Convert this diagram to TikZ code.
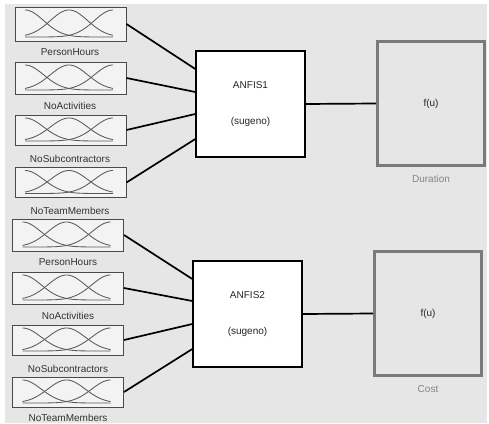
\documentclass[tikz,border=0pt]{standalone}
\usepackage{fontspec}
\setmainfont{Liberation Sans}
\definecolor{bgc}{HTML}{E6E6E6}
\definecolor{boxfill}{HTML}{F3F3F3}
\definecolor{boxline}{HTML}{4A4A4A}
\definecolor{mfc}{HTML}{5A5A5A}
\definecolor{outline}{HTML}{7A7A7A}
\definecolor{labc}{HTML}{333333}
\definecolor{capc}{HTML}{858585}
\newcommand{\mfcurves}[3]{% x0, y0 (top-left), h
  \foreach \c in {0,44,88}{
    \draw[mfline] plot[domain=0:88, samples=70, smooth]
      ({#1+10+\x}, {#2+#3-4-(#3-7)*exp(-((\x-\c)*(\x-\c))/699)});
  }%
}
\tikzset{
  inbox/.style={draw=boxline, fill=boxfill, line width=1pt, inner sep=0pt, minimum width=111pt},
  mfline/.style={draw=mfc, line width=0.85pt},
  inlabel/.style={text=labc, font=\fontsize{10}{12}\selectfont, inner sep=0pt},
  anfis/.style={draw=black, fill=white, line width=1.4pt, inner sep=0pt, minimum width=109pt, minimum height=106pt, align=center, font=\fontsize{10}{12}\selectfont, text=black!85},
  outbox/.style={draw=outline, fill=bgc, line width=3pt, inner sep=0pt, minimum width=107pt, minimum height=124pt, font=\fontsize{10}{12}\selectfont, text=black!85},
  caption/.style={text=capc, font=\fontsize{10}{12}\selectfont, inner sep=0pt},
  conn/.style={draw=black, line width=1.7pt},
}
\begin{document}
\begin{tikzpicture}[x=1pt, y=-1pt]
\useasboundingbox (0,0) rectangle (489,423);
\fill[white] (0,0) rectangle (489,423);
\fill[bgc] (5,4) rectangle (487,423);

% ---- top group inputs ----
\node[inbox, minimum height=34pt] (in1) at (70.5,24) {};
\node[inbox, minimum height=32pt] (in2) at (70.5,78) {};
\node[inbox, minimum height=30pt] (in3) at (70.5,130) {};
\node[inbox, minimum height=30pt] (in4) at (70.5,182.5) {};
\mfcurves{15}{7}{34}
\mfcurves{15}{62}{32}
\mfcurves{15}{115}{30}
\mfcurves{15}{167.5}{30}
\node[inlabel] (l1) at (70,52) {PersonHours};
\node[inlabel] (l2) at (70,106) {NoActivities};
\node[inlabel] (l3) at (70,159) {NoSubcontractors};
\begin{scope}
\clip (0,0) rectangle (489,214);
\node[inlabel] (l4) at (70,211) {NoTeamMembers};
\end{scope}

% ---- bottom group inputs ----
\node[inbox, minimum height=32pt] (in5) at (68,235) {};
\node[inbox, minimum height=32pt] (in6) at (68,288) {};
\node[inbox, minimum height=30pt] (in7) at (68,340) {};
\node[inbox, minimum height=30pt] (in8) at (68,392) {};
\mfcurves{12.5}{219}{32}
\mfcurves{12.5}{272}{32}
\mfcurves{12.5}{325}{30}
\mfcurves{12.5}{377}{30}
\node[inlabel] (l5) at (68,262) {PersonHours};
\node[inlabel] (l6) at (68,316) {NoActivities};
\node[inlabel] (l7) at (68,369) {NoSubcontractors};
\node[inlabel] (l8) at (68,418) {NoTeamMembers};

% ---- ANFIS blocks ----
\node[anfis] (a1) at (250.5,104) {ANFIS1\\[24pt](sugeno)};
\node[anfis] (a2) at (247.5,314) {ANFIS2\\[24pt](sugeno)};

% ---- output blocks ----
\node[outbox] (o1) at (431,103.5) {f(u)};
\node[outbox] (o2) at (428,313.5) {f(u)};
\node[caption] (c1) at ([yshift=-12pt]o1.south) {Duration};
\node[caption] (c2) at ([yshift=-12pt]o2.south) {Cost};

% ---- connectors ----
\draw[conn] (in1.east) -- ([yshift=35pt]a1.west);
\draw[conn] (in2.east) -- ([yshift=12pt]a1.west);
\draw[conn] (in3.east) -- ([yshift=-10pt]a1.west);
\draw[conn] (in4.east) -- ([yshift=-35pt]a1.west);
\draw[conn] (a1.east) -- (o1.west);
\draw[conn] (in5.east) -- ([yshift=35pt]a2.west);
\draw[conn] (in6.east) -- ([yshift=13pt]a2.west);
\draw[conn] (in7.east) -- ([yshift=-10pt]a2.west);
\draw[conn] (in8.east) -- ([yshift=-35pt]a2.west);
\draw[conn] (a2.east) -- (o2.west);
\end{tikzpicture}
\end{document}
